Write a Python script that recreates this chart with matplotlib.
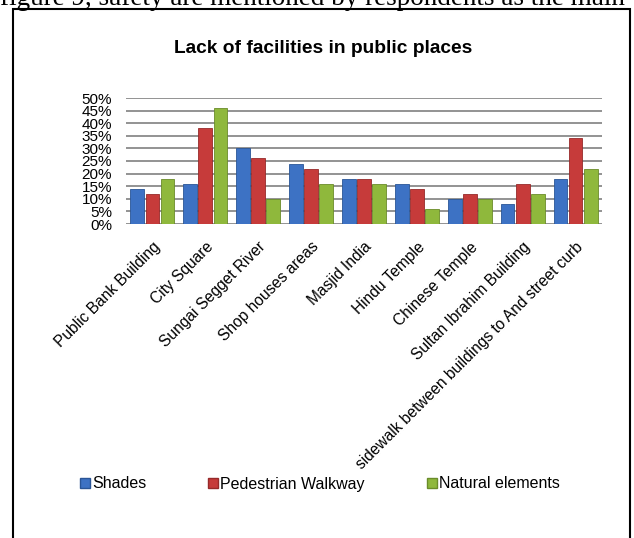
import numpy as np
import matplotlib
matplotlib.use("Agg")
import matplotlib.pyplot as plt
from matplotlib.patches import Rectangle, Patch

places = ["Public Bank Building", "City Square", "Sungai Segget River", "Shop houses areas",
          "Masjid India", "Hindu Temple", "Chinese Temple", "Sultan Ibrahim Building",
          "sidewalk between buildings to And street curb"]
shades     = [14, 16, 30, 24, 18, 16, 10, 8, 18]
walkway    = [12, 38, 26, 22, 18, 14, 12, 16, 34]
natural    = [18, 46, 10, 16, 16, 6, 10, 12, 22]
series_names = ["Shades", "Pedestrian Walkway", "Natural elements"]
colors = ["#3d72c4", "#c63b3a", "#8fb83c"]
edges  = ["#2a5596", "#962a2a", "#6a8c2a"]
yticks = [0, 5, 10, 15, 20, 25, 30, 35, 40, 45, 50]

plt.rcParams["font.family"] = ["Liberation Sans", "DejaVu Sans"]

fig = plt.figure(figsize=(6.34, 5.38), dpi=100)
W, H = 634, 538
ax = fig.add_axes([126 / W, 1 - 224 / H, (602 - 126) / W, (224 - 98) / H])

x = np.arange(len(places))
bw = 0.26
for k, vals in enumerate([shades, walkway, natural]):
    ax.bar(x + (k - 1) * 0.285, vals, width=bw, color=colors[k],
           edgecolor=edges[k], linewidth=0.6, zorder=3, label=series_names[k])

ax.set_xlim(-0.5, len(places) - 0.5)
ax.set_ylim(0, 50)
ax.set_yticks(yticks)
ax.set_yticklabels(["%d%%" % v for v in yticks], fontsize=11)
ax.set_xticks(x)
ax.set_xticklabels(places, rotation=45, ha="right", va="top", rotation_mode="anchor",
                   fontsize=11.2)
ax.tick_params(length=0)
ax.tick_params(axis="y", pad=10)
ax.tick_params(axis="x", pad=11)
ax.grid(axis="y", color="#8a8a8a", linewidth=1.3, zorder=0)
for s in ax.spines.values():
    s.set_visible(False)

# chart title and box
fig.text(323 / W, 1 - 53 / H, "Lack of facilities in public places", ha="center",
         va="baseline", fontsize=13.8, fontweight="bold")
fig.patches.append(Rectangle((13 / W, -0.05), (630 - 13) / W, 1.05 - 9 / H,
                             transform=fig.transFigure, fill=False,
                             edgecolor="black", linewidth=1.5))

# cut-off line of the page text above the chart
fig.text(0.0, 1 - 5 / H, "figure 9, safety are mentioned by respondents as the main",
         ha="left", va="baseline", fontsize=19.5, family=["Liberation Serif", "DejaVu Serif"])

handles = [Patch(facecolor=colors[k], edgecolor=edges[k]) for k in range(3)]
fig.legend(handles, series_names, loc="center", bbox_to_anchor=(320 / W, 1 - 484 / H),
           ncol=3, frameon=False, fontsize=11.5, handlelength=0.6, handleheight=0.6,
           handletextpad=0.15, columnspacing=3.9)

fig.savefig("out.png", dpi=100)
